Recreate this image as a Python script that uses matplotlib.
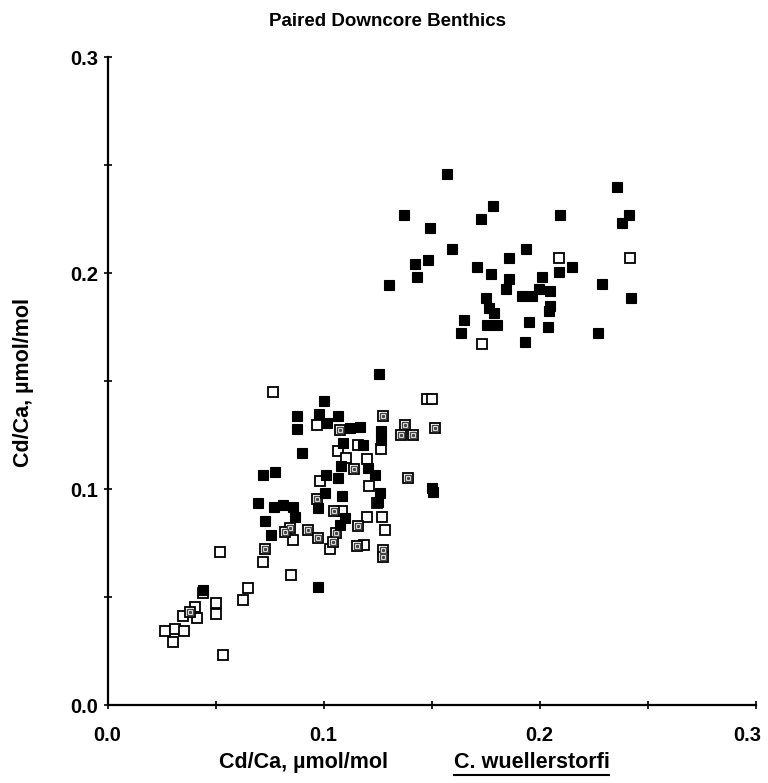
import matplotlib
matplotlib.use("Agg")
import matplotlib.pyplot as plt
import matplotlib.transforms as mtransforms
from matplotlib.lines import Line2D

plt.rcParams['font.family'] = ['Liberation Sans', 'DejaVu Sans']
plt.rcParams['font.weight'] = 'bold'

# filled squares
filled_x = [0.157, 0.236, 0.1786, 0.1371, 0.1729, 0.2092, 0.2414, 0.2383, 0.1494, 0.1594,
            0.1939, 0.1859, 0.1485, 0.1422, 0.1709, 0.2149, 0.2089, 0.1774, 0.1433, 0.2010,
            0.1860, 0.1305, 0.2288, 0.1845, 0.1999, 0.2049, 0.1918, 0.1964, 0.1752, 0.2422,
            0.2049, 0.1765, 0.2041, 0.1791, 0.1649, 0.1951, 0.1756, 0.1802, 0.1638, 0.2038,
            0.2268, 0.1931, 0.1258,
            0.1002, 0.0879, 0.0981, 0.1066, 0.1018, 0.0876, 0.1123, 0.1169, 0.1266, 0.1266,
            0.1092, 0.1184, 0.0902, 0.1080, 0.1207, 0.1238, 0.1501, 0.1507, 0.0718, 0.0775,
            0.1012, 0.1069, 0.1007, 0.1084, 0.1262, 0.1254, 0.0976, 0.0695, 0.0771, 0.0811,
            0.0857, 0.0868, 0.0729, 0.0756, 0.1100, 0.1076, 0.0976, 0.0441]
filled_y = [0.2457, 0.240, 0.2312, 0.2269, 0.2249, 0.2270, 0.2270, 0.2233, 0.2210, 0.2110,
            0.2110, 0.2068, 0.2062, 0.2040, 0.2029, 0.2029, 0.2006, 0.1995, 0.1983, 0.1983,
            0.1974, 0.1946, 0.1948, 0.1925, 0.1927, 0.1915, 0.1894, 0.1894, 0.1884, 0.1883,
            0.1849, 0.1838, 0.1823, 0.1813, 0.1782, 0.1772, 0.1761, 0.1761, 0.1724, 0.1751,
            0.1724, 0.1682, 0.1531,
            0.1407, 0.1338, 0.1347, 0.1338, 0.1304, 0.1279, 0.1281, 0.1286, 0.1269, 0.1227,
            0.1211, 0.1204, 0.1168, 0.1106, 0.1096, 0.1065, 0.1003, 0.0986, 0.1064, 0.1080,
            0.1065, 0.1050, 0.0980, 0.0969, 0.0980, 0.0941, 0.0911, 0.0934, 0.0918, 0.0926,
            0.0918, 0.0870, 0.0853, 0.0787, 0.0864, 0.0833, 0.0548, 0.0532]

# open squares
open_x = [0.2089, 0.2416, 0.1734, 0.0765, 0.1479, 0.1502, 0.0971, 0.1266, 0.1160, 0.1069,
          0.1106, 0.1199, 0.0985, 0.1208, 0.1246, 0.1084, 0.1200, 0.1271, 0.1285, 0.0857,
          0.1030, 0.1189, 0.0718, 0.0848, 0.0521, 0.0649, 0.0629, 0.0441, 0.0500, 0.0500,
          0.0403, 0.0351, 0.0416, 0.0264, 0.0313, 0.0356, 0.0302, 0.0533]
open_y = [0.2068, 0.2068, 0.1671, 0.1448, 0.1418, 0.1418, 0.1296, 0.1185, 0.1206, 0.1177,
          0.1142, 0.1138, 0.1037, 0.1014, 0.0934, 0.0898, 0.0870, 0.0869, 0.0810, 0.0764,
          0.0721, 0.0741, 0.0663, 0.0602, 0.0710, 0.0542, 0.0484, 0.0517, 0.0472, 0.0421,
          0.0454, 0.0412, 0.0404, 0.0343, 0.0350, 0.0343, 0.0294, 0.0230]

# squares with a dot inside
dot_x = [0.1276, 0.1078, 0.1379, 0.1357, 0.1416, 0.1515, 0.1141, 0.1393, 0.0968, 0.1046,
         0.1161, 0.0845, 0.0822, 0.0930, 0.0976, 0.1058, 0.1045, 0.0729, 0.1154, 0.1274,
         0.1274, 0.0382]
dot_y = [0.1338, 0.1272, 0.1296, 0.1249, 0.1249, 0.1281, 0.1093, 0.1050, 0.0952, 0.0900,
         0.0829, 0.0818, 0.0802, 0.0810, 0.0773, 0.0798, 0.0756, 0.0722, 0.0734, 0.0718,
         0.0687, 0.0431]

ticks = [0.0, 0.1, 0.2, 0.3]
tick_labels = ["0.0", "0.1", "0.2", "0.3"]

fig = plt.figure(figsize=(7.68, 7.83), dpi=100)
ax = fig.add_axes([0.140, 0.0996, 0.844, 0.8276])

ms = 7.5
ax.plot(open_x, open_y, "s", ms=ms, mfc="white", mec="black", mew=1.3, ls="none", clip_on=False)
ax.plot(dot_x, dot_y, "s", ms=ms, mfc="white", mec="black", mew=1.3, ls="none", clip_on=False)
ax.plot(dot_x, dot_y, "s", ms=3.8, mfc="white", mec="#444444", mew=1.0, ls="none", clip_on=False)
ax.plot(dot_x, dot_y, "s", ms=1.2, mfc="#444444", mec="#444444", ls="none", clip_on=False)
ax.plot(filled_x, filled_y, "s", ms=ms, mfc="black", mec="black", mew=0.8, ls="none", clip_on=False)

ax.set_xlim(0, 0.3)
ax.set_ylim(0, 0.3)
ax.spines['top'].set_visible(False)
ax.spines['right'].set_visible(False)
ax.spines['left'].set_linewidth(1.6)
ax.spines['bottom'].set_linewidth(1.6)

ax.set_xticks(ticks)
ax.set_xticklabels(tick_labels)
ax.set_yticks(ticks)
ax.set_yticklabels(tick_labels)
ax.set_xticks([0.05, 0.15, 0.25], minor=True)
ax.set_yticks([0.05, 0.15, 0.25], minor=True)
ax.tick_params(which="both", direction="inout", length=6, width=1.2, labelsize=14.5)
ax.tick_params(axis="x", pad=12)
ax.tick_params(axis="y", pad=4)
for lab in ax.get_xticklabels() + ax.get_yticklabels():
    lab.set_fontweight("bold")

# last x label sits at the image edge, nudge it inwards
last = ax.get_xticklabels()[-1]
last.set_transform(last.get_transform() +
                   mtransforms.ScaledTranslation(-6 / 72, 0, fig.dpi_scale_trans))

fig.text(0.505, 0.972, "Paired Downcore Benthics", ha="center", va="center",
         fontsize=13.5, fontweight="bold")
fig.text(0.030, 0.512, "Cd/Ca, µmol/mol", rotation=90, ha="center", va="center",
         fontsize=15.5, fontweight="bold")
fig.text(0.395, 0.026, "Cd/Ca, µmol/mol", ha="center", va="center",
         fontsize=15.5, fontweight="bold")
t = fig.text(0.692, 0.026, "C. wuellerstorfi", ha="center", va="center",
             fontsize=15.5, fontweight="bold")

fig.canvas.draw()
bb = t.get_window_extent().transformed(fig.transFigure.inverted())
fig.add_artist(Line2D([bb.x0, bb.x1], [bb.y0 - 0.003, bb.y0 - 0.003],
                      transform=fig.transFigure, color="black", lw=1.5))

fig.savefig("out.png", dpi=100)
